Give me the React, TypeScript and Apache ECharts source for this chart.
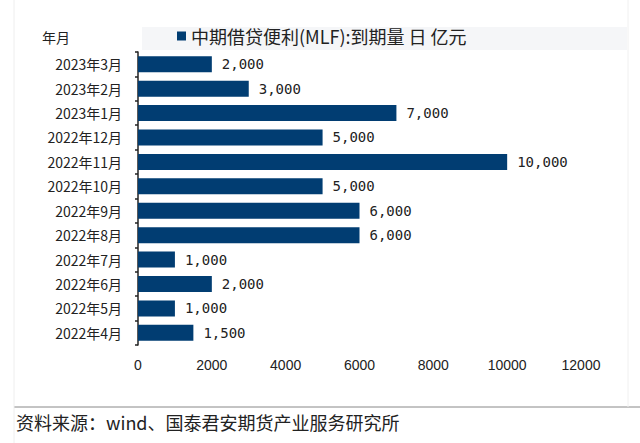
import React, { useEffect, useRef } from "react";
import * as echarts from "echarts";

const categories = [
  "2023年3月", "2023年2月", "2023年1月", "2022年12月", "2022年11月", "2022年10月",
  "2022年9月", "2022年8月", "2022年7月", "2022年6月", "2022年5月", "2022年4月",
];
const values = [2000, 3000, 7000, 5000, 10000, 5000, 6000, 6000, 1000, 2000, 1000, 1500];
const seriesName = "中期借贷便利(MLF):到期量 日 亿元";
const sourceText = "资料来源：wind、国泰君安期货产业服务研究所";
const axisTitle = "年月";

const FONT = "'Noto Sans CJK SC', 'Noto Sans', sans-serif";

export default function App() {
  const ref = useRef<HTMLDivElement>(null);
  useEffect(() => {
    if (!ref.current) return;
    const chart = echarts.init(ref.current, null, { renderer: "svg" });
    chart.setOption({
      animation: false,
      backgroundColor: "#ffffff",
      textStyle: { fontFamily: FONT },
      grid: { left: 138, right: 59, top: 52, bottom: 98, containLabel: false },
      legend: {
        data: [seriesName],
        left: 177,
        top: 27,
        itemWidth: 9,
        itemHeight: 9,
        itemGap: 4,
        padding: 0,
        textStyle: { fontSize: 18, color: "#222", fontFamily: FONT, padding: [0, 0, 0, 0] },
        icon: "rect",
      },
      xAxis: {
        type: "value",
        min: 0,
        max: 12000,
        interval: 2000,
        axisLine: { show: false },
        axisTick: { show: false },
        splitLine: { show: false },
        axisLabel: {
          fontSize: 14,
          color: "#222",
          margin: 13,
          fontFamily: "'Liberation Sans', Arial, sans-serif",
          formatter: (v: number) => String(v),
        },
      },
      yAxis: {
        type: "category",
        data: categories,
        inverse: true,
        axisLine: { show: true, lineStyle: { color: "#222", width: 1.5 } },
        axisTick: { show: true, length: 3, lineStyle: { color: "#222", width: 1.5 } },
        axisLabel: { fontSize: 14, color: "#222", margin: 16 },
        splitLine: { show: false },
      },
      series: [
        {
          name: seriesName,
          type: "bar",
          data: values,
          barWidth: 16,
          itemStyle: { color: "#013d72" },
          label: {
            show: true,
            position: "right",
            distance: 10,
            fontSize: 14,
            color: "#222",
            fontFamily: "'DejaVu Sans Mono', monospace",
            formatter: (p: any) => Number(p.value).toLocaleString("en-US"),
          },
        },
      ],
      graphic: [
        {
          type: "rect",
          z: -10,
          shape: { x: 142, y: 27, width: 485, height: 23 },
          style: { fill: "#f5f6f8" },
        },
        {
          type: "text",
          left: 42,
          top: 30,
          style: { text: axisTitle, fontSize: 14, fill: "#222", fontFamily: FONT },
        },
        {
          type: "line",
          shape: { x1: 14, y1: 407, x2: 640, y2: 407 },
          style: { stroke: "#888", lineWidth: 1 },
        },
        {
          type: "line",
          shape: { x1: 14, y1: 0, x2: 14, y2: 443 },
          style: { stroke: "#eeeeee", lineWidth: 1 },
        },
        {
          type: "line",
          shape: { x1: 628, y1: 0, x2: 628, y2: 407 },
          style: { stroke: "#f0f0f0", lineWidth: 1 },
        },
        {
          type: "text",
          left: 16,
          top: 413,
          style: { text: sourceText, fontSize: 18, fill: "#222", fontFamily: FONT },
        },
      ],
    });
    return () => chart.dispose();
  }, []);
  return (
    <div
      ref={ref}
      style={{ position: "fixed", left: 0, top: 0, width: 640, height: 443 }}
    />
  );
}
